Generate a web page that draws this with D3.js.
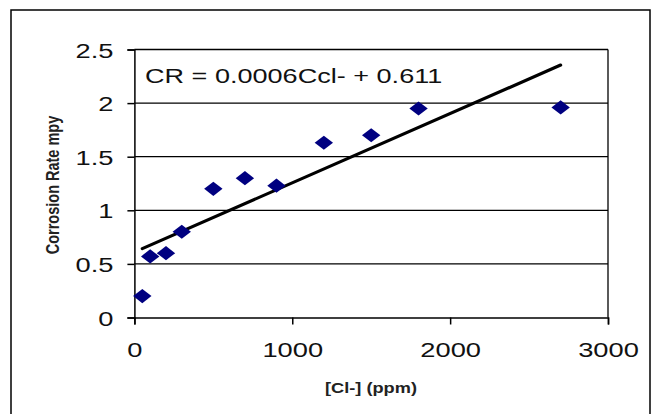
<!DOCTYPE html>
<html><head><meta charset="utf-8">
<script src="https://cdn.jsdelivr.net/npm/d3@7"></script>
<style>
html,body{margin:0;padding:0;background:#fff;}
text{font-family:"Liberation Sans",Arial,sans-serif;}
</style></head>
<body>
<svg id="c" width="656" height="414"></svg>
<script>
const chlorideX = [50, 100, 200, 300, 500, 700, 900, 1200, 1500, 1800, 2700];
const corrosionY = [0.2, 0.57, 0.6, 0.8, 1.2, 1.3, 1.23, 1.63, 1.7, 1.95, 1.96];
const xTicks = [0, 1000, 2000, 3000];
const yTicks = [0, 0.5, 1, 1.5, 2, 2.5];
const equationLabel = "CR = 0.0006Ccl- + 0.611";
const xTitle = "[Cl-] (ppm)";
const yTitle = "Corrosion Rate mpy";

const SX = 1.3; // horizontal stretch of the source picture
const svg = d3.select("#c");

svg.append("rect").attr("x",11).attr("y",10).attr("width",639).attr("height",430)
  .attr("fill","#fff").attr("stroke","#000").attr("stroke-width",1.5);

const x = d3.scaleLinear().domain([0,3000]).range([134.4,608]);
const y = d3.scaleLinear().domain([0,2.5]).range([317.5,49.5]);

// gridlines
svg.append("g").selectAll("line").data(yTicks.filter(d=>d>0)).join("line")
  .attr("x1",x(0)).attr("x2",x(3000)).attr("y1",d=>y(d)).attr("y2",d=>y(d))
  .attr("stroke","#000").attr("stroke-width",1.3);
// right border
svg.append("line").attr("x1",x(3000)).attr("x2",x(3000)).attr("y1",y(2.5)).attr("y2",y(0))
  .attr("stroke","#000").attr("stroke-width",1.3);

// axes
const yAxis = svg.append("g").attr("transform",`translate(${x(0)},0)`)
  .call(d3.axisLeft(y).tickValues(yTicks).tickSize(7).tickPadding(0).tickFormat(d3.format("")));
const xAxis = svg.append("g").attr("transform",`translate(0,${y(0)})`)
  .call(d3.axisBottom(x).tickValues(xTicks).tickSize(7).tickPadding(0).tickFormat(d3.format("")));
[yAxis,xAxis].forEach(g=>{
  g.select(".domain").attr("stroke","#000").attr("stroke-width",1.5);
  g.selectAll(".tick line").attr("stroke","#000").attr("stroke-width",1.5);
  g.selectAll("text").attr("fill","#111").attr("font-size",21);
});
yAxis.selectAll("text").attr("x",-21/SX).attr("dy","0.36em").attr("transform",`scale(${SX},1)`);
xAxis.selectAll("text").attr("y",0).attr("dy",0).attr("transform",`translate(0,39.5) scale(${SX},1)`);

// trend line (least squares)
const mx = d3.mean(chlorideX), my = d3.mean(corrosionY);
const slope = d3.sum(chlorideX,(v,i)=>(v-mx)*(corrosionY[i]-my))/d3.sum(chlorideX,v=>(v-mx)*(v-mx));
const icpt = my - slope*mx;
const ext = d3.extent(chlorideX);
svg.append("line").attr("x1",x(ext[0])).attr("y1",y(icpt+slope*ext[0]))
  .attr("x2",x(ext[1])).attr("y2",y(icpt+slope*ext[1]))
  .attr("stroke","#000").attr("stroke-width",3.2).attr("stroke-linecap","round");

// points
const pts = chlorideX.map((v,i)=>({x:v,y:corrosionY[i]}));
svg.append("g").selectAll("path").data(pts).join("path")
  .attr("transform",d=>`translate(${x(d.x)},${y(d.y)}) scale(${SX},1) rotate(45)`)
  .attr("d","M-5,-5H5V5H-5Z").attr("fill","#000080");

// equation
svg.append("text").attr("transform",`translate(145,82.5) scale(1.32,1)`)
  .attr("font-size",20.5).attr("fill","#111").text(equationLabel);

// axis titles
svg.append("text").attr("transform",`translate(371,393) scale(${SX},1)`)
  .attr("text-anchor","middle").attr("font-size",14).attr("font-weight","bold").attr("fill","#222").text(xTitle);
svg.append("text").attr("transform",`translate(59,185) scale(${SX},1) rotate(-90)`)
  .attr("text-anchor","middle").attr("font-size",14.5).attr("font-weight","bold").attr("fill","#222").text(yTitle);
</script>
</body></html>
